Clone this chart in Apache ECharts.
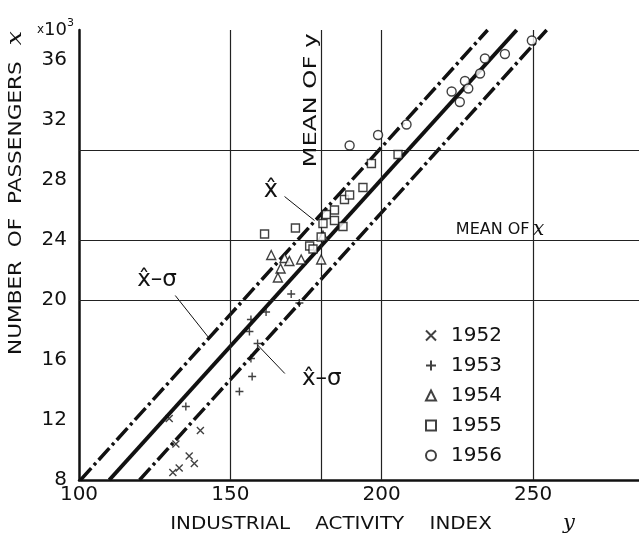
<!DOCTYPE html>
<html>
<head>
<meta charset="utf-8">
<script src="https://cdn.jsdelivr.net/npm/echarts@6/dist/echarts.min.js"></script>
<style>
html, body { margin: 0; padding: 0; background: #fff; }
#main { width: 639px; height: 539px; }
</style>
</head>
<body>
<div id="main"></div>
<script>
// industrial activity index (y) against passengers (x, thousands)
var years = ['1952', '1953', '1954', '1955', '1956']
var pts1952 = [[131, 8.5], [133.1, 8.8], [136.4, 9.6], [138.1, 9.1], [140.1, 11.3], [132, 10.4], [129.8, 12.1]]
var pts1953 = [[135.3, 12.9], [153, 13.9], [157.2, 14.9], [156.8, 16.1], [159, 17.1], [156.3, 17.9],
  [156.8, 18.7], [161.8, 19.2], [170.1, 20.4], [172.8, 19.8]]
var pts1954 = [[163.5, 23], [167.9, 22.8], [169.5, 22.6], [166.6, 22.1], [165.7, 21.5], [173.4, 22.7],
  [180, 22.7], [180.6, 24.3]]
var pts1955 = [[161.3, 24.4], [171.5, 24.8], [176.2, 23.6], [177.3, 23.4], [180, 24.2], [180.6, 25.1],
  [184.4, 26], [181.7, 25.7], [184.4, 25.3], [187.2, 24.9], [187.7, 26.7], [189.4, 27], [193.8, 27.5],
  [196.6, 29.1], [205.4, 29.7]]
var pts1956 = [[189.4, 30.3], [198.8, 31], [208.2, 31.7], [223.1, 33.9], [225.8, 33.2], [227.5, 34.6],
  [228.6, 34.1], [232.5, 35.1], [234.1, 36.1], [240.7, 36.4], [249.6, 37.3]]

// regression line x-hat and the two sigma bands
var lineMid = [[110, 8], [244.6, 38]]
var lineUpper = [[100.5, 8], [235, 38]]
var lineLower = [[120, 8], [254.5, 38]]

var xTicks = [100, 150, 200, 250]
var yTicks = [8, 12, 16, 20, 24, 28, 32, 36]
var gridX = [150, 200, 250]
var gridY = [20, 30]
var meanIndex = 180
var meanPassengers = 24

// leader lines for the labels
var leaderLeft = [[131.8, 20.3], [143.2, 17.4]]
var leaderRight = [[159, 17], [168, 15.1]]
var leaderHat = [[167.9, 26.9], [177.8, 25.3]]

var ink = '#111'
var font = 'DejaVu Sans'

var chart = echarts.init(document.getElementById('main'))

function pointSeries(name, data, symbol, size) {
  return {
    name: name,
    type: 'scatter',
    data: data,
    symbol: symbol,
    symbolSize: size,
    z: 5,
    itemStyle: { color: '#fff', borderColor: ink, borderWidth: 1.4 },
  }
}

function fitLine(data, dash, width) {
  return {
    type: 'line',
    data: data,
    symbol: 'none',
    silent: true,
    z: 3,
    lineStyle: { color: ink, width: width, type: dash },
  }
}

function leader(data) {
  return {
    type: 'line',
    data: data,
    symbol: 'none',
    silent: true,
    z: 2,
    lineStyle: { color: ink, width: 1 },
  }
}

var refLines = gridX.map(function (v) { return { xAxis: v } })
  .concat([{ xAxis: meanIndex }])
  .concat(gridY.map(function (v) { return { yAxis: v } }))
  .concat([{ yAxis: meanPassengers }])

var crossPath = 'path://M0,0L10,10M10,0L0,10'
var plusPath = 'path://M5,0L5,10M0,5L10,5'

var option = {
  animation: false,
  backgroundColor: '#fff',
  grid: { left: 79, right: 0, top: 30, bottom: 59 },
  xAxis: {
    type: 'value',
    min: 100,
    max: 285,
    interval: 50,
    axisLine: { lineStyle: { color: ink, width: 2.5 } },
    axisTick: { show: false },
    splitLine: { show: false },
    axisLabel: {
      color: ink, fontFamily: font, fontSize: 20, margin: 5,
      showMaxLabel: false,
      formatter: function (v) { return xTicks.indexOf(v) >= 0 ? String(v) : '' },
    },
  },
  yAxis: {
    type: 'value',
    min: 8,
    max: 38,
    interval: 4,
    axisLine: { show: true, lineStyle: { color: ink, width: 2.5 } },
    axisTick: { show: false },
    splitLine: { show: false },
    axisLabel: {
      color: ink, fontFamily: font, fontSize: 20, margin: 12,
      showMaxLabel: false,
      formatter: function (v) { return yTicks.indexOf(v) >= 0 ? String(v) : '' },
    },
  },
  legend: {
    orient: 'vertical',
    left: 420,
    top: 320,
    itemWidth: 10,
    itemHeight: 10,
    itemGap: 9,
    data: years,
    textStyle: { color: ink, fontFamily: font, fontSize: 20, lineHeight: 21, padding: [0, 0, 0, 10] },
  },
  series: [
    Object.assign(fitLine(lineMid, 'solid', 4), {
      markLine: {
        symbol: 'none',
        silent: true,
        label: { show: false },
        lineStyle: { color: '#222', width: 1.2, type: 'solid' },
        data: refLines,
      },
    }),
    fitLine(lineUpper, [16, 4, 3, 4], 3.5),
    fitLine(lineLower, [16, 4, 3, 4], 3.5),
    leader(leaderLeft),
    leader(leaderRight),
    leader(leaderHat),
    pointSeries('1952', pts1952, crossPath, 7),
    pointSeries('1953', pts1953, plusPath, 8),
    pointSeries('1954', pts1954, 'triangle', 9),
    pointSeries('1955', pts1955, 'rect', 8),
    pointSeries('1956', pts1956, 'circle', 9),
  ],
}
chart.setOption(option)

// annotations placed from data coordinates
function at(pt) { return chart.convertToPixel({ gridIndex: 0 }, pt) }
var pL = at([125.8, 21.3])
var pR = at([180.2, 14.7])
var pH = at([163.4, 27.3])
var pMy = at([176.6, 33.3])
var pMx = at([224.5, 24.7])
chart.setOption({
  graphic: [
    {
      type: 'text', x: pL[0], y: pL[1], z: 10,
      style: { text: 'x\u0302\u2013\u03c3', font: '23px DejaVu Sans', fill: ink, align: 'center', verticalAlign: 'middle' },
    },
    {
      type: 'text', x: pR[0], y: pR[1], z: 10,
      style: { text: 'x\u0302\u2013\u03c3', font: '23px DejaVu Sans', fill: ink, align: 'center', verticalAlign: 'middle' },
    },
    {
      type: 'text', x: pH[0], y: pH[1], z: 10,
      style: { text: 'x\u0302', font: '24px DejaVu Sans', fill: ink, align: 'center', verticalAlign: 'middle' },
    },
    {
      type: 'text', x: pMy[0], y: pMy[1], rotation: Math.PI / 2, scaleX: 1.35, z: 10,
      style: { text: 'MEAN OF y', font: '18px DejaVu Sans', fill: ink, align: 'center', verticalAlign: 'middle' },
    },
    {
      type: 'text', x: pMx[0], y: pMx[1], z: 10,
      style: {
        text: '{a|MEAN OF} {b|x}', align: 'left', verticalAlign: 'middle',
        rich: {
          a: { fontFamily: font, fontSize: 16, fill: ink },
          b: { fontFamily: 'DejaVu Serif', fontStyle: 'italic', fontSize: 20, fill: ink },
        },
      },
    },
    {
      type: 'text', x: 16, y: 193, rotation: Math.PI / 2, scaleX: 1.2, z: 10,
      style: {
        text: '{a|NUMBER  OF  PASSENGERS}{b|  x}', align: 'center', verticalAlign: 'middle',
        rich: {
          a: { fontFamily: font, fontSize: 18, fill: ink },
          b: { fontFamily: 'DejaVu Serif', fontStyle: 'italic', fontSize: 21, fill: ink },
        },
      },
    },
    {
      type: 'text', x: 331, y: 525, scaleX: 1.17, z: 10,
      style: { text: 'INDUSTRIAL    ACTIVITY    INDEX', font: '17px DejaVu Sans', fill: ink, align: 'center', verticalAlign: 'middle' },
    },
    {
      type: 'text', x: 569, y: 524, z: 10,
      style: { text: 'y', font: 'italic 21px DejaVu Serif', fill: ink, align: 'center', verticalAlign: 'middle' },
    },
    {
      type: 'text', x: 37, y: 30, z: 10,
      style: {
        text: '{s|x}{n|10}{u|3}',
        align: 'left', verticalAlign: 'middle',
        rich: {
          s: { fontFamily: font, fontSize: 12, fill: ink },
          n: { fontFamily: font, fontSize: 18, fill: ink },
          u: { fontFamily: font, fontSize: 11, fill: ink, verticalAlign: 'top', padding: [0, 0, 14, 0] },
        },
      },
    },
  ],
})
</script>
</body>
</html>
